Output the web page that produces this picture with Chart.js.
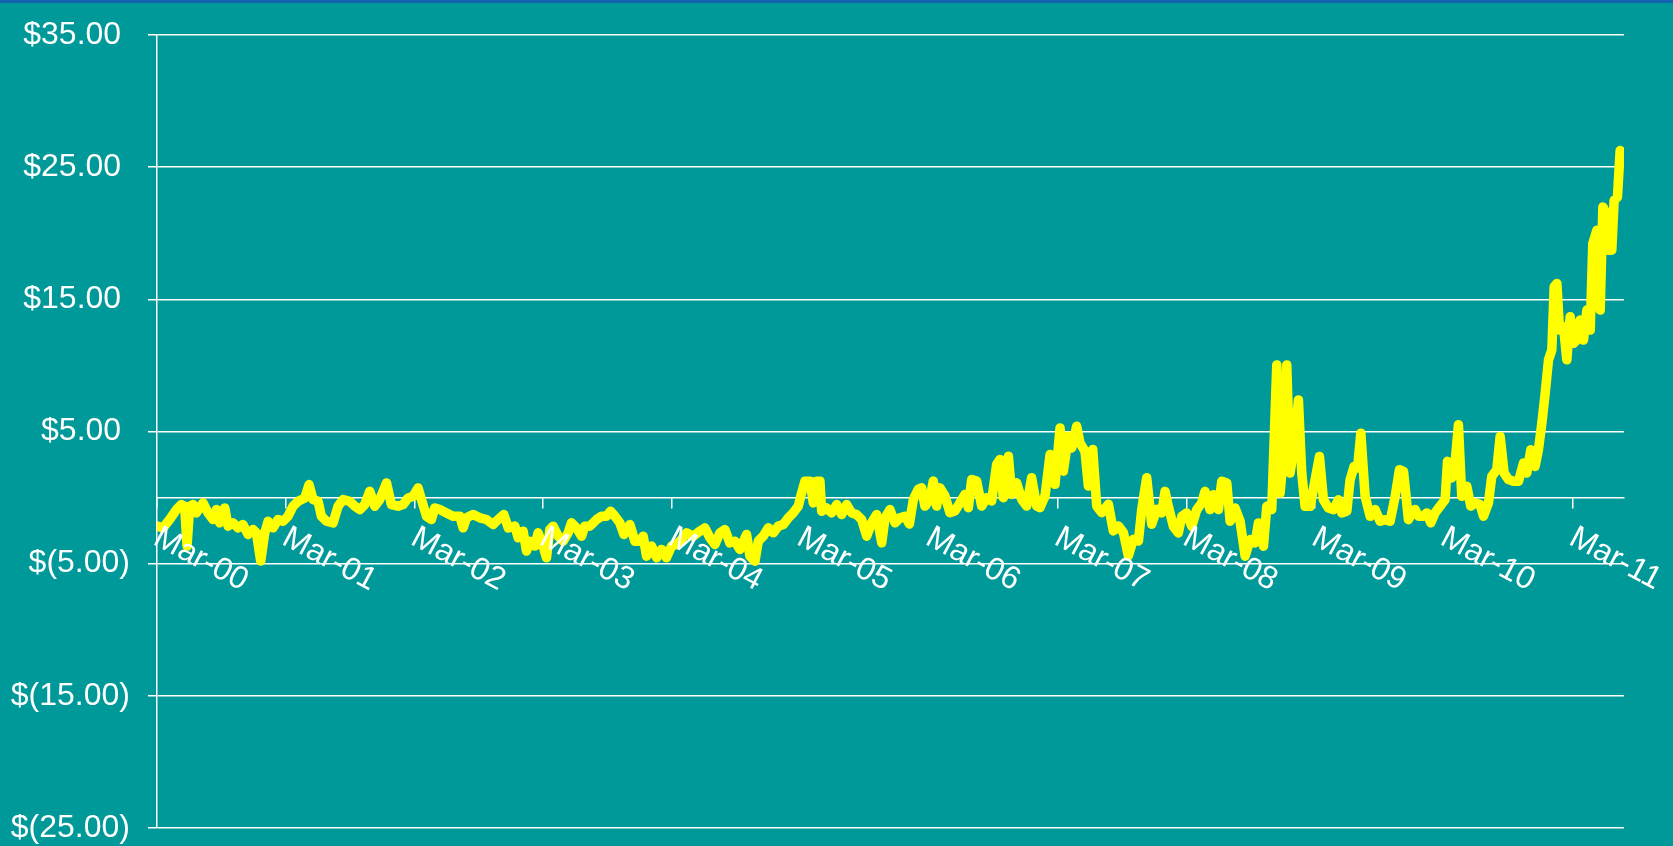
<!DOCTYPE html>
<html>
<head>
<meta charset="utf-8">
<script src="https://cdn.jsdelivr.net/npm/chart.js@4"></script>
<style>
  html, body { margin: 0; padding: 0; background: #009999; }
  #quadro { width: 1673px; height: 846px; position: relative; }
</style>
</head>
<body>
<div id="quadro"><canvas id="grafico"></canvas></div>
<script>
// meses desde Mar-00 (eixo x) e valor em dólares (eixo y)
const meses = [
  0.00, 0.56, 1.18, 1.81, 2.27, 2.58, 2.80, 3.05, 3.36, 3.67, 4.29, 4.76, 5.23, 5.54, 5.85, 6.32, 6.63, 7.09, 7.56, 8.02,
  8.49, 8.96, 9.27, 9.67, 10.05, 10.36, 10.82, 11.29, 11.76, 12.22, 12.69, 13.16, 13.78, 14.18, 14.55, 15.02, 15.33, 15.80, 16.42, 16.89,
  17.35, 17.98, 18.44, 18.91, 19.37, 19.84, 20.31, 20.77, 21.40, 21.86, 22.48, 22.95, 23.42,
  23.89, 24.35, 24.66, 25.13, 25.59, 25.90, 26.37, 26.99, 27.61, 28.24, 28.55, 28.86, 29.48, 30.10, 30.72, 31.35, 31.81, 32.34, 32.75, 33.37,
  33.68, 34.14, 34.46, 34.77, 35.23, 35.54, 36.01, 36.32, 36.63, 36.94, 37.41, 37.88, 38.34, 38.65, 39.12, 39.59, 39.90, 40.36, 40.99, 41.45,
  41.92, 42.29, 42.70, 43.16, 43.54, 44.10, 44.56, 45.03, 45.34, 45.65, 46.12, 46.59,
  47.05, 47.51, 47.98, 48.45, 48.91, 49.38, 50.00, 50.62, 51.09, 51.56, 52.02, 52.49, 52.96, 53.42, 53.89, 54.36, 54.98, 55.29, 55.76, 56.07,
  56.53, 57.00, 57.47, 57.93, 58.40, 58.87, 59.33, 59.80, 60.11, 60.42, 60.89, 61.20, 61.51, 61.82, 61.98, 62.44, 62.91, 63.38, 63.84, 64.31,
  64.78, 65.24, 65.71, 66.18, 66.64, 67.11, 67.58, 67.89, 68.35, 68.82, 69.29, 69.75, 70.16,
  70.53, 70.99, 71.30, 71.61, 72.08, 72.39, 72.70, 73.01, 73.48, 73.94, 74.41, 74.88, 75.34, 75.66, 75.97, 76.43, 76.90, 77.37, 77.83, 78.30,
  78.61, 78.92, 79.39, 79.70, 80.16, 80.63, 81.10, 81.56, 82.03, 82.34, 82.81, 83.28, 83.74, 84.21, 84.52, 84.99, 85.30, 85.76, 86.07, 86.54,
  86.85, 87.26, 87.63, 88.10, 88.72, 89.18, 89.65, 90.12, 90.58, 91.05, 91.52, 91.83, 92.29, 92.76, 93.23,
  93.69, 94.00, 94.31, 94.78, 95.24, 95.56, 96.02, 96.49, 96.96, 97.42, 97.73, 98.20, 98.51, 98.98, 99.29, 99.76, 100.07, 100.53, 101.00, 101.47,
  101.93, 102.40, 102.71, 103.18, 103.49, 103.95, 104.42, 104.73, 105.04, 105.35, 105.66, 106.13, 106.44, 106.75, 107.06, 107.53, 108.00, 108.40, 108.77, 109.24,
  109.71, 110.17, 110.48, 110.95, 111.26, 111.63, 111.95, 112.26, 112.66, 113.13, 113.59, 114.06, 114.53, 114.99, 115.46, 115.86, 116.24, 116.70,
  117.01, 117.32, 117.63, 118.10, 118.41, 118.78, 119.18, 119.65, 120.12, 120.34, 120.74, 121.05, 121.36, 121.67, 122.14, 122.51, 122.92, 123.38, 123.70, 124.16,
  124.47, 124.94, 125.25, 125.62, 126.03, 126.49, 126.96, 127.43, 127.74, 128.11, 128.51, 128.82, 129.14, 129.45, 129.76, 130.07, 130.29, 130.54, 130.79, 131.16,
  131.47, 131.78, 132.09, 132.40, 132.71, 133.02, 133.34, 133.65, 133.89, 134.27, 134.58, 134.83, 135.14, 135.35, 135.66, 135.88, 136.19, 136.44
];

const valores = [
  -2.16, -2.29, -1.66, -0.91, -0.53, -0.65, -3.67, -0.65, -0.53, -1.16, -0.40, -1.16, -1.66, -0.91, -1.91, -0.78, -2.16, -1.91, -2.29, -2.04,
  -2.79, -2.42, -2.67, -4.80, -2.67, -1.79, -2.29, -1.66, -1.79, -1.41, -0.65, -0.28, -0.03, 0.98, -0.15, -0.28, -1.41, -1.79, -1.91, -0.65,
  -0.15, -0.28, -0.65, -0.91, -0.53, 0.48, -0.65, -0.15, 1.11, -0.53, -0.65, -0.53, -0.03,
  0.10, 0.73, -0.15, -1.41, -1.66, -0.78, -0.91, -1.16, -1.41, -1.41, -2.29, -1.53, -1.28, -1.53, -1.66, -2.04, -1.66, -1.28, -2.29, -2.16,
  -3.04, -2.54, -4.05, -3.30, -3.67, -2.67, -3.67, -4.55, -2.42, -2.16, -2.92, -3.30, -2.67, -1.91, -2.29, -2.92, -2.16, -2.16, -1.66, -1.41,
  -1.41, -1.03, -1.41, -1.91, -2.79, -2.04, -3.30, -3.30, -2.92, -4.43, -3.67, -4.55,
  -3.92, -4.55, -3.67, -3.55, -3.17, -2.67, -2.92, -2.54, -2.29, -3.04, -3.55, -2.67, -2.42, -3.42, -3.30, -3.92, -2.79, -4.43, -4.81, -3.30,
  -2.92, -2.29, -2.67, -2.16, -2.04, -1.53, -1.16, -0.65, 0.35, 1.23, 1.23, -0.40, 1.23, 1.23, -1.03, -0.78, -1.16, -0.53, -1.28, -0.53,
  -1.16, -1.28, -1.66, -2.92, -1.91, -1.28, -3.42, -1.53, -0.91, -1.91, -1.53, -1.41, -2.00,
  -0.14, 0.62, 0.74, -0.64, -0.14, 1.25, -0.64, 0.74, 0.12, -1.14, -1.02, -0.39, 0.24, -0.76, 1.37, 1.25, -0.64, -0.01, -0.26, 2.51,
  2.88, -0.01, 3.13, 0.24, 1.12, -0.14, -0.64, 1.50, -0.64, -0.76, 0.12, 3.26, 1.00, 5.27, 2.00, 4.64, 3.76, 5.40, 4.14, 3.51,
  0.87, 3.64, -0.64, -1.14, -0.51, -2.52, -2.15, -2.65, -4.42, -3.15, -3.28, -0.89, 1.50, -2.02, -0.89,
  -1.16, 0.47, -0.67, -2.18, -2.68, -1.42, -1.16, -2.18, -0.91, -0.41, 0.47, -0.91, 0.22, -0.91, 1.23, 1.10, -1.79, -0.79, -1.79, -4.43,
  -3.18, -3.43, -1.92, -3.68, -0.66, -0.91, 10.03, 0.35, 3.11, 10.03, 1.86, 4.36, 7.39, 1.86, -0.66, -0.66, 1.35, 3.11, -0.16, -0.79,
  -0.91, -0.16, -1.16, -1.04, 1.35, 2.36, 2.23, 4.87, 0.09, -1.42, -0.91, -1.79, -1.67, -1.79, 0.09, 2.11, 1.98, -1.67,
  -1.16, -0.91, -1.41, -1.41, -1.16, -1.91, -1.16, -0.65, -0.15, 2.74, 1.48, 2.62, 5.51, 0.10, 0.86, -0.65, -0.40, -0.53, -1.41, -0.40,
  1.61, 2.11, 4.63, 1.86, 1.36, 1.23, 1.23, 2.62, 1.86, 3.62, 2.36, 3.62, 5.64, 7.90, 10.42, 11.17, 15.95, 16.20, 12.68, 12.93,
  10.42, 13.69, 11.67, 11.92, 13.43, 11.92, 14.19, 12.68, 19.22, 20.23, 14.19, 21.99, 21.48, 18.72, 18.72, 22.49, 22.74, 26.26
];

const anosTicks = [0, 12, 24, 36, 48, 60, 72, 84, 96, 108, 120, 132];
const rotulosX = ["Mar-00", "Mar-01", "Mar-02", "Mar-03", "Mar-04", "Mar-05",
                  "Mar-06", "Mar-07", "Mar-08", "Mar-09", "Mar-10", "Mar-11"];
const ticksY = [-25, -15, -5, 5, 15, 25, 35];

const FONTE = '"Liberation Sans", Arial, sans-serif';

function formatarDolar(v) {
    // formato contábil: negativos entre parênteses, positivos com espaço no fim
    return v < 0 ? `$(${Math.abs(v).toFixed(2)})` : `$${v.toFixed(2)} `;
}

// faixa azul no topo
const fundoPlugin = {
    id: "fundo",
    beforeDraw(chart) {
        const ctx = chart.ctx;
        ctx.save();
        ctx.fillStyle = "#009999";
        ctx.fillRect(0, 0, chart.width, chart.height);
        ctx.fillStyle = "#1463ae";
        ctx.fillRect(0, 0, chart.width, 3);
        ctx.restore();
    }
};

// rótulos do eixo x inclinados para baixo
const rotulosPlugin = {
    id: "rotulosX",
    afterDraw(chart) {
        const { ctx, scales: { x, y } } = chart;
        const y0 = y.getPixelForValue(0);
        ctx.save();
        ctx.fillStyle = "#ffffff";
        ctx.font = `32px ${FONTE}`;
        ctx.textAlign = "left";
        ctx.textBaseline = "middle";
        anosTicks.forEach((m, i) => {
            ctx.save();
            ctx.translate(x.getPixelForValue(m) - 1, y0 + 38);
            ctx.rotate(28 * Math.PI / 180);
            ctx.fillText(rotulosX[i], 0, 0);
            ctx.restore();
        });
        ctx.restore();
    }
};

const grafico = new Chart(document.getElementById("grafico"), {
    type: "line",
    data: {
        datasets: [{
            data: meses.map((m, i) => ({ x: m, y: valores[i] })),
            borderColor: "#ffff00",
            borderWidth: 9.5,
            borderCapStyle: "round",
            borderJoinStyle: "round",
            pointRadius: 0,
            tension: 0,
            fill: false
        }]
    },
    options: {
        responsive: true,
        maintainAspectRatio: false,
        animation: false,
        layout: { padding: { top: 35, right: 49, bottom: 18, left: 0 } },
        plugins: {
            legend: { display: false },
            tooltip: { enabled: false }
        },
        scales: {
            x: {
                type: "linear",
                min: 0,
                max: 136.8,
                position: { y: 0 },
                afterBuildTicks: s => { s.ticks = anosTicks.map(v => ({ value: v })); },
                afterFit: s => { s.height = 0; s.paddingLeft = 0; s.paddingRight = 0; },
                grid: { display: true, drawOnChartArea: false, drawTicks: true, tickLength: 10, color: "#ffffff", lineWidth: 1.5 },
                border: { display: true, color: "#ffffff", width: 1.5 },
                ticks: { display: false }
            },
            y: {
                min: -25,
                max: 35,
                afterBuildTicks: s => { s.ticks = ticksY.map(v => ({ value: v })); },
                afterFit: s => { s.width = 157; s.paddingTop = 0; s.paddingBottom = 0; },
                grid: { color: "#ffffff", lineWidth: 1.5, tickLength: 9 },
                border: { color: "#ffffff", width: 1.5 },
                ticks: {
                    color: "#ffffff",
                    padding: 18,
                    font: { family: FONTE, size: 32 },
                    callback: formatarDolar
                }
            }
        }
    },
    plugins: [fundoPlugin, rotulosPlugin]
});
</script>
</body>
</html>
